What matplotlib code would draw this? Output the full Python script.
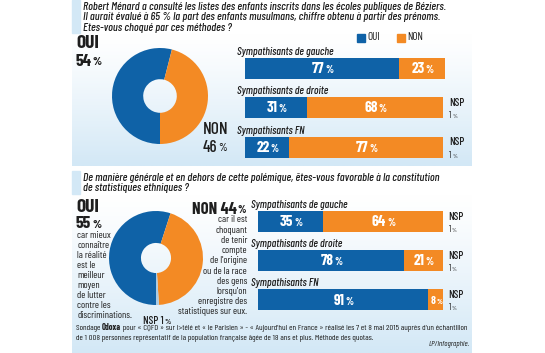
import matplotlib
matplotlib.use("Agg")
import matplotlib.pyplot as plt
import numpy as np
from matplotlib import font_manager
from matplotlib import transforms
from matplotlib.patches import Rectangle
from matplotlib.colors import to_rgb

# ---------------- data ----------------
q1_text = ["Robert Ménard a consulté les listes des enfants inscrits dans les écoles publiques de Béziers.",
           "Il aurait évalué à 65 % la part des enfants musulmans, chiffre obtenu à partir des prénoms.",
           "Etes-vous choqué par ces méthodes ?"]
q2_text = ["De manière générale et en dehors de cette polémique, êtes-vous favorable à la constitution",
           "de statistiques ethniques ?"]
groups = ["Sympathisants de gauche", "Sympathisants de droite", "Sympathisants FN"]

q1_total = [54, 46]            # OUI, NON
q1_oui = [77, 31, 22]
q1_non = [23, 68, 77]
q1_nsp = [None, 1, 1]

q2_total = [55, 44, 1]         # OUI, NON, NSP
q2_oui = [35, 78, 91]
q2_non = [64, 21, 8]
q2_nsp = [1, 1, 1]

oui_reason = ["car mieux", "connaître", "la réalité", "est le", "meilleur", "moyen",
              "de lutter", "contre les", "discriminations."]
non_reason = ["car il est", "choquant", "de tenir", "compte", "de l'origine", "ou de la race",
              "des gens", "lorsqu'on", "enregistre des", "statistiques sur eux."]
source_a = "Sondage "
source_b = "Odoxa"
source_c = " pour « CQFD » sur i>télé et « le Parisien » - « Aujourd'hui en France » réalisé les 7 et 8 mai 2015 auprès d'un échantillon"
source_2 = "de 1 008 personnes représentatif de la population française âgée de 18 ans et plus. Méthode des quotas."
credit = "LP/Infographie."

# ---------------- style ----------------
BLUE = "#0f62a7"
ORANGE = "#f38a24"
LIGHT = "#d3e8f6"
NSPC = "#a9cbe4"
DARK = "#1e1e1e"

avail = {f.name for f in font_manager.fontManager.ttflist}
cands = ["Barlow Condensed", "Barlow Semi Condensed", "Roboto Condensed", "Archivo Narrow",
         "Asap Condensed", "Liberation Sans Narrow"]
NARROW = next((c for c in cands if c in avail), "DejaVu Sans")
FAM = [NARROW, "DejaVu Sans"]
plt.rcParams["font.family"] = FAM

W, H = 545, 353
fig = plt.figure(figsize=(W / 100, H / 100), dpi=100)
bg = fig.add_axes([0, 0, 1, 1])
bg.axis("off")

def grad(x0, x1, y0, y1, c_top="#ffffff", c_bot=LIGHT):
    a = np.array(to_rgb(c_top)); b = np.array(to_rgb(c_bot))
    t = np.linspace(0, 1, 64)[:, None] ** 1.2
    img = (a[None, :] * (1 - t) + b[None, :] * t)[:, None, :]
    bg.imshow(img, extent=(x0, x1, y1, y0), aspect="auto", zorder=0, interpolation="bilinear")

grad(72, 472, 33, 166)
grad(72, 472, 194, 353)
bg.add_patch(Rectangle((72, 0), 8, 33, color=LIGHT, zorder=1))
bg.add_patch(Rectangle((72, 171), 8, 23, color=LIGHT, zorder=1))
bg.set_xlim(0, W); bg.set_ylim(H, 0)


def num_pct(ax, x, y, num, size, psize, weight="normal", color=DARK, ha="left", dx=0.0):
    tr = transforms.offset_copy(ax.transData, fig=fig, x=dx, y=0, units="points")
    t = ax.text(x, y, num, fontsize=size, fontweight=weight, color=color, ha=ha, va="center",
                transform=tr, clip_on=False)
    ax.annotate("%", xy=(1, 0.08), xycoords=t, xytext=(0.7, 0), textcoords="offset points",
                fontsize=psize, fontweight=weight, color=color, ha="left", va="bottom",
                annotation_clip=False)
    return t


QS = 8.3
for i, line in enumerate(q1_text):
    bg.text(83, 7 + i * 10.3, line, fontsize=QS, style="italic", fontweight="medium", color=DARK,
            va="center", ha="left")
for i, line in enumerate(q2_text):
    bg.text(83, 178 + i * 10.3, line, fontsize=QS, style="italic", fontweight="medium", color=DARK,
            va="center", ha="left")

# legend
bg.add_patch(Rectangle((357, 34), 7.5, 7.5, color=BLUE))
bg.text(367, 37.5, "OUI", fontsize=8, va="center", color=DARK)
bg.add_patch(Rectangle((397, 34), 7.5, 7.5, color=ORANGE))
bg.text(407, 37.5, "NON", fontsize=8, va="center", color=DARK)

# big labels section 1
bg.text(76, 43, "OUI", fontsize=14, fontweight="bold", va="center", color=DARK)
num_pct(bg, 76, 61, f"{q1_total[0]}", 12.5, 8.5, weight="bold")
bg.text(203, 130, "NON", fontsize=12.5, fontweight="medium", va="center", color=DARK)
num_pct(bg, 203, 147, f"{q1_total[1]}", 12, 8, weight="medium")

# section 2 labels
bg.text(76, 207, "OUI", fontsize=14, fontweight="bold", va="center", color=DARK)
num_pct(bg, 76, 224, f"{q2_total[0]}", 12.5, 8.5, weight="bold")
for i, line in enumerate(oui_reason):
    bg.text(77, 236 + i * 10.0, line, fontsize=7.2, va="center", color=DARK)
num_pct(bg, 237, 209, f"NON {q2_total[1]}", 12, 8, weight="bold", ha="right")
for i, line in enumerate(non_reason):
    bg.text(247, 220 + i * 10.2, line, fontsize=7.2, va="center", ha="right", color=DARK)
num_pct(bg, 143, 321, f"NSP {q2_total[2]}", 8, 6, weight="medium")

# source
t1 = bg.text(76, 328, source_a, fontsize=6.1, va="center", color=DARK)
t2 = bg.annotate(source_b, xycoords=t1, xy=(1, 0.5), va="center", fontsize=6.1, fontweight="bold", color=DARK)
bg.annotate(source_c, xycoords=t2, xy=(1, 0.5), va="center", fontsize=6.1, color=DARK)
bg.text(76, 338, source_2, fontsize=6.1, va="center", color=DARK)
bg.text(470, 344, credit, fontsize=5.8, style="italic", va="center", ha="right", color=DARK)

# ---------------- donuts ----------------
def donut(cx, cy, r, vals, colors, hole):
    ax = fig.add_axes([(cx - r) / W, (H - cy - r) / H, 2 * r / W, 2 * r / H])
    ax.pie(vals, colors=colors, startangle=270, counterclock=False, radius=1,
           wedgeprops=dict(width=1 - hole, linewidth=0))
    ax.set_xlim(-1, 1); ax.set_ylim(-1, 1)
    ax.set_aspect("equal")
    ax.axis("off")
    return ax

donut(160, 96, 48, q1_total, [BLUE, ORANGE], 0.35)
donut(156, 258, 47, q2_total, [BLUE, ORANGE, NSPC], 0.32)

# ---------------- bars ----------------
def bars(x0, x1, centers_px, oui, non, nsp):
    step = centers_px[1] - centers_px[0]
    top = centers_px[0] - step * 0.5 - 14
    bot = centers_px[-1] + step * 0.5
    ax = fig.add_axes([x0 / W, (H - bot) / H, (x1 - x0) / W, (bot - top) / H])
    n = len(oui)
    y = np.arange(n)
    ax.barh(y, oui, height=0.53, color=BLUE, linewidth=0)
    ax.barh(y, non, left=oui, height=0.53, color=ORANGE, linewidth=0)
    ax.set_xlim(0, 100)
    ax.set_ylim(n - 0.5, -0.5 - 14 / step)
    ax.axis("off")
    for i in range(n):
        ax.text(-4, i - 0.29, groups[i], fontsize=8, style="italic", fontweight="medium",
                va="bottom", ha="left", color=DARK)
        num_pct(ax, oui[i] / 2, i + 0.02, f"{oui[i]}", 11, 7.5, weight="bold", color="white",
                ha="center", dx=-3)
        big = non[i] > 9
        num_pct(ax, oui[i] + non[i] / 2, i + 0.02, f"{non[i]}", 11 if big else 8, 7.5 if big else 5.5,
                weight="bold", color="white", ha="center", dx=-3 if big else -2)
        if nsp[i] is not None:
            ax.text(102, i - 0.12, "NSP", fontsize=8, fontweight="medium", color=DARK, va="center",
                    ha="left", clip_on=False)
            num_pct(ax, 102, i + 0.2, f"{nsp[i]}", 6.5, 4.5)
    return ax

bars(245, 445, [67.5, 106.5, 147.5], q1_oui, q1_non, q1_nsp)
bars(258, 445, [221, 260, 300], q2_oui, q2_non, q2_nsp)

fig.savefig("out.png", dpi=100)
